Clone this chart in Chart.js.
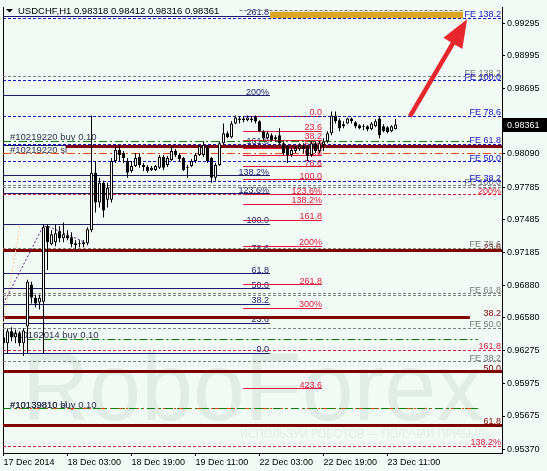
<!DOCTYPE html>
<html>
<head>
<meta charset="utf-8">
<title>USDCHF H1</title>
<script src="https://cdn.jsdelivr.net/npm/chart.js@4.4.1/dist/chart.umd.min.js"></script>
<style>
  html, body { margin: 0; padding: 0; background: #f2faf5; }
  #wrap { position: relative; width: 547px; height: 471px; }
</style>
</head>
<body>
<div id="wrap"><canvas id="chart"></canvas></div>
<script>
// ---- данные графика ----
const symbolTitle = 'USDCHF,H1 0.98318 0.98412 0.98316 0.98361';
const timeLabels = ['17 Dec 2014', '18 Dec 03:00', '18 Dec 19:00', '19 Dec 11:00', '22 Dec 03:00', '22 Dec 19:00', '23 Dec 11:00'];
const timeTickBars = [0, 16, 32, 48, 64, 80, 96];
const priceTicks = [0.99295, 0.98995, 0.98695, 0.98090, 0.97785, 0.97485, 0.97185, 0.96880, 0.96580, 0.96275, 0.95975, 0.95675, 0.95370];

// H1 свечи
const opens = [0.96400, 0.96346, 0.96455, 0.96400, 0.96437, 0.96346, 0.96501, 0.96884, 0.96766, 0.96720,
  0.96729, 0.97423, 0.97259, 0.97277, 0.97377, 0.97313, 0.97341, 0.97322, 0.97268, 0.97259,
  0.97259, 0.97268, 0.97386, 0.97916, 0.97642, 0.97825, 0.97669, 0.97669, 0.98026, 0.98126,
  0.98099, 0.98026, 0.97934, 0.97980, 0.98062, 0.97989, 0.97971, 0.97943, 0.97943, 0.97962,
  0.98062, 0.97989, 0.98035, 0.98117, 0.98080, 0.98053, 0.97962, 0.97980, 0.98026, 0.98080,
  0.98080, 0.98162, 0.98053, 0.97870, 0.97989, 0.98190, 0.98281, 0.98245, 0.98372, 0.98400,
  0.98418, 0.98400, 0.98418, 0.98436, 0.98391, 0.98299, 0.98235, 0.98263, 0.98226, 0.98263,
  0.98190, 0.98162, 0.98080, 0.98117, 0.98135, 0.98162, 0.98162, 0.98080, 0.98190, 0.98117,
  0.98172, 0.98208, 0.98281, 0.98445, 0.98400, 0.98363, 0.98372, 0.98418, 0.98382, 0.98354,
  0.98345, 0.98345, 0.98318, 0.98345, 0.98418, 0.98345, 0.98336, 0.98299, 0.98318];
const highs = [0.96437, 0.96482, 0.96492, 0.96473, 0.96455, 0.96482, 0.96930, 0.96912, 0.96793, 0.96793,
  0.97441, 0.97441, 0.97386, 0.97441, 0.97423, 0.97459, 0.97386, 0.97368, 0.97295, 0.97295,
  0.97295, 0.97414, 0.98445, 0.98026, 0.97870, 0.97843, 0.97825, 0.98053, 0.98162, 0.98162,
  0.98117, 0.98053, 0.98026, 0.98099, 0.98099, 0.98007, 0.97989, 0.97980, 0.97989, 0.98080,
  0.98080, 0.98071, 0.98162, 0.98135, 0.98099, 0.98062, 0.97989, 0.98044, 0.98099, 0.98172,
  0.98208, 0.98172, 0.98062, 0.98007, 0.98208, 0.98372, 0.98299, 0.98391, 0.98445, 0.98436,
  0.98436, 0.98445, 0.98436, 0.98445, 0.98400, 0.98309, 0.98299, 0.98281, 0.98263, 0.98327,
  0.98208, 0.98172, 0.98144, 0.98162, 0.98190, 0.98190, 0.98172, 0.98208, 0.98208, 0.98208,
  0.98235, 0.98299, 0.98482, 0.98482, 0.98418, 0.98391, 0.98427, 0.98427, 0.98391, 0.98363,
  0.98363, 0.98354, 0.98382, 0.98409, 0.98436, 0.98363, 0.98345, 0.98354, 0.98412];
const lows = [0.96300, 0.96254, 0.96364, 0.96346, 0.96318, 0.96227, 0.96254, 0.96711, 0.96674, 0.96656,
  0.96254, 0.97021, 0.97249, 0.97240, 0.97277, 0.97277, 0.97295, 0.97231, 0.97204, 0.97231,
  0.97231, 0.97249, 0.97368, 0.97551, 0.97596, 0.97505, 0.97596, 0.97642, 0.98007, 0.98026,
  0.98007, 0.97870, 0.97916, 0.97971, 0.97962, 0.97934, 0.97916, 0.97934, 0.97934, 0.97952,
  0.97943, 0.97971, 0.98026, 0.98062, 0.98026, 0.97934, 0.97870, 0.97971, 0.98007, 0.98071,
  0.98062, 0.98007, 0.97825, 0.97843, 0.97980, 0.98172, 0.98235, 0.98235, 0.98363, 0.98372,
  0.98382, 0.98391, 0.98382, 0.98372, 0.98290, 0.98217, 0.98226, 0.98208, 0.98208, 0.98172,
  0.98080, 0.98007, 0.98062, 0.98099, 0.98117, 0.98099, 0.98026, 0.98062, 0.98099, 0.98099,
  0.98117, 0.98190, 0.98263, 0.98372, 0.98299, 0.98327, 0.98363, 0.98372, 0.98327, 0.98318,
  0.98309, 0.98299, 0.98309, 0.98336, 0.98235, 0.98290, 0.98281, 0.98290, 0.98316];
const closes = [0.96346, 0.96455, 0.96400, 0.96437, 0.96346, 0.96464, 0.96912, 0.96766, 0.96711, 0.96766,
  0.97414, 0.97277, 0.97350, 0.97359, 0.97313, 0.97350, 0.97313, 0.97259, 0.97249, 0.97268,
  0.97277, 0.97396, 0.97916, 0.97642, 0.97825, 0.97569, 0.97779, 0.98026, 0.98126, 0.98080,
  0.98053, 0.97916, 0.97980, 0.98053, 0.97989, 0.97971, 0.97934, 0.97962, 0.97980, 0.98062,
  0.97962, 0.98053, 0.98117, 0.98080, 0.98044, 0.97943, 0.97971, 0.98026, 0.98080, 0.98162,
  0.98172, 0.98026, 0.97870, 0.97989, 0.98190, 0.98281, 0.98245, 0.98372, 0.98427, 0.98418,
  0.98400, 0.98427, 0.98400, 0.98391, 0.98299, 0.98235, 0.98281, 0.98217, 0.98245, 0.98190,
  0.98099, 0.98080, 0.98126, 0.98144, 0.98162, 0.98135, 0.98071, 0.98190, 0.98117, 0.98190,
  0.98208, 0.98281, 0.98445, 0.98391, 0.98327, 0.98345, 0.98418, 0.98391, 0.98345, 0.98327,
  0.98336, 0.98318, 0.98372, 0.98391, 0.98263, 0.98299, 0.98290, 0.98345, 0.98361];

// Fibo Expansion (синие и серые)
const feBluePrices = [0.99341, 0.98766, 0.98437, 0.98181, 0.98017, 0.97835];
const feBlueLabels = ['FE 138.2', 'FE 100.0', 'FE 78.6', 'FE 61.8', 'FE 50.0', 'FE 38.2'];
const feGrayPrices = [0.98802, 0.97798, 0.97780, 0.97223, 0.96803, 0.96785, 0.96484, 0.96173];
const feGrayLabels = ['FE 138.2', 'FE 100.0', '', 'FE 78.6', 'FE 61.8', '', 'FE 50.0', 'FE 38.2'];
const feGrayTopPrice = 0.99414;

// уровни Фибоначчи
const fibNavyLevels = ['0.0', '23.6', '38.2', '50.0', '61.8', '78.6', '100.0', '123.6%', '138.2%', '161.8', '200%', '261.8'];
const fibNavyPrices = [0.96255, 0.96529, 0.96703, 0.96849, 0.96986, 0.97187, 0.97442, 0.97725, 0.97889, 0.98172, 0.98629, 0.99359];
const fibRedLevels = ['0.0', '23.6', '38.2', '50.0', '61.8', '78.6', '100.0', '123.6%', '138.2%', '161.8', '200%', '261.8', '300%', '423.6'];
const fibRedPrices = [0.98437, 0.98300, 0.98218, 0.98145, 0.98072, 0.97972, 0.97853, 0.97716, 0.97625, 0.97479, 0.97241, 0.96885, 0.96666, 0.95927];
const fibRedExtLevels = ['200%', '161.8', '138.2%'];
const fibRedExtPrices = [0.97716, 0.96283, 0.95397];
const fibMaroonLevels = ['', '23.6', '38.2', '50.0', '61.8'];
const fibMaroonPrices = [0.98163, 0.97196, 0.96584, 0.96082, 0.95590];

// ордера
const orderBuyPrices = [0.98209, 0.96383, 0.95744];
const orderBuyLabels = ['#10219220 buy 0.10', '#10162014 buy 0.10', '#10139810 buy 0.10'];
const orderStopPrices = [0.98090, 0.95744];
const orderStopLabels = ['#10219220 sl', '#10139810 sl'];

// линии разметки
const zigzagBars = [0, 9.9, 11.1, 20.4];
const zigzagPrices = [0.96712, 0.97423, 0.97423, 0.97277];
const trendBars = [0, 4.1];
const trendPrices = [0.96532, 0.97433];
const arrowBars = [101.6, 115.9];
const arrowPrices = [0.98437, 0.99332];
const targetZoneBars = [66.6, 114.9];
const targetZonePrices = [0.99400, 0.99341];

const watermarkText = 'RoboForex';
const watermarkSlogan = 'ИСПОЛЬЗУЙ РОБОТОВ — ПОЛУЧАЙ ПРИБЫЛЬ';

// ---- оформление ----
const X_MIN = -0.125, X_MAX = 124.625;
const Y_MIN = 0.95334, Y_MAX = 0.99441;
const FONT = '"Liberation Sans", Arial, sans-serif';
const C = {
    blue: '#1212c4', gray: '#808080', navy: '#1c1c6e', red: '#e0193c', maroon: '#800000',
    green: '#008000', orange: '#ff4500', purple: '#5a1a9a', peach: '#f5c79a',
    arrow: '#e8262d', gold: '#daa520', text: '#2e2e4e'
};
const NAVY_END = 66.6, RED_START = 59.9, RED_END = 79.6;

Chart.defaults.font.family = FONT;
Chart.defaults.font.size = 9;

const datasets = [];

function hLine(price, from, to, color, width, dash, order) {
    datasets.push({
        type: 'line',
        data: [{ x: from, y: price }, { x: to, y: price }],
        borderColor: color, borderWidth: width, borderDash: dash,
        pointRadius: 0, fill: false, order: order, snap: true
    });
}

function polyLine(bars, prices, color, width, dash, order) {
    datasets.push({
        type: 'line',
        data: bars.map((b, i) => ({ x: b, y: prices[i] })),
        borderColor: color, borderWidth: width, borderDash: dash,
        pointRadius: 0, fill: false, order: order, tension: 0
    });
}

// целевая зона (золотой прямоугольник)
datasets.push({
    type: 'line', data: targetZoneBars.map(b => ({ x: b, y: targetZonePrices[0] })),
    borderWidth: 0, borderColor: 'transparent', pointRadius: 0, fill: false, order: 100
});
datasets.push({
    type: 'line', data: targetZoneBars.map(b => ({ x: b, y: targetZonePrices[1] })),
    borderWidth: 0, borderColor: 'transparent', pointRadius: 0, fill: '-1',
    backgroundColor: C.gold, order: 100
});

hLine(feGrayTopPrice, 59, 115, C.gray, 1, [3, 2], 90);
feGrayPrices.forEach(p => hLine(p, X_MIN, X_MAX, C.gray, 1, [3, 2], 90));
fibNavyPrices.forEach(p => hLine(p, X_MIN, NAVY_END, C.navy, 1, [], 80));
fibRedPrices.forEach(p => hLine(p, RED_START, RED_END, C.red, 1, [], 75));
fibRedExtPrices.forEach(p => hLine(p, X_MIN, X_MAX, C.red, 1, [3, 2], 70));
feBluePrices.forEach(p => hLine(p, X_MIN, X_MAX, C.blue, 1, [3, 2], 65));

// толстые бордовые уровни
hLine(fibMaroonPrices[0], 15.6, X_MAX, C.maroon, 3, [], 60);
hLine(fibMaroonPrices[1], X_MIN, X_MAX, C.maroon, 3, [], 60);
hLine(fibMaroonPrices[2], X_MIN, 116.6, C.maroon, 3, [], 60);
hLine(fibMaroonPrices[3], X_MIN, X_MAX, C.maroon, 3, [], 60);
hLine(fibMaroonPrices[4], X_MIN, X_MAX, C.maroon, 3, [], 60);

// ордера: sl оранжевые, buy зелёные
hLine(orderStopPrices[0], X_MIN, X_MAX, C.orange, 1, [8, 3, 2, 3], 55);
hLine(orderStopPrices[1], X_MIN, 118.6, C.orange, 1, [8, 3, 2, 3], 55);
hLine(orderBuyPrices[0], X_MIN, 116.6, C.green, 1, [8, 3, 2, 3], 50);
hLine(orderBuyPrices[1], 6, 118.6, C.green, 1, [8, 3, 2, 3], 50);
hLine(orderBuyPrices[2], X_MIN, 118.6, C.green, 1, [8, 4, 2, 4], 50);

polyLine(trendBars, trendPrices, C.peach, 1, [2, 2], 45);
polyLine(zigzagBars, zigzagPrices, C.purple, 1, [2, 2], 45);

// свечи: тени и тела
datasets.push({
    type: 'bar',
    data: lows.map((l, i) => ({ x: i, y: [l, highs[i]] })),
    backgroundColor: '#000', barThickness: 1, grouped: false, inflateAmount: 0, order: 2
});
datasets.push({
    type: 'bar',
    data: opens.map((o, i) => ({ x: i, y: [o, closes[i]] })),
    backgroundColor: opens.map((o, i) => closes[i] >= o ? '#ffffff' : '#000000'),
    borderColor: '#000', borderWidth: 1, borderSkipped: false, barThickness: 3,
    minBarLength: 1, grouped: false, inflateAmount: 0, order: 1
});

// выравнивание горизонтальных линий по пикселям
const snapPlugin = {
    id: 'snapLines',
    beforeDatasetDraw(chart, args) {
        const ds = chart.data.datasets[args.index];
        if (!ds.snap) return;
        const py = args.meta.data[0].y;
        const target = ds.borderWidth % 2 === 1 ? Math.floor(py) + 0.5 : Math.round(py);
        chart.ctx.save();
        chart.ctx.translate(0, target - py);
    },
    afterDatasetDraw(chart, args) {
        if (chart.data.datasets[args.index].snap) chart.ctx.restore();
    }
};

// водяной знак и подписи уровней
const backPlugin = {
    id: 'backTexts',
    beforeDatasetsDraw(chart) {
        const { ctx, chartArea: a, scales: { x, y } } = chart;
        ctx.save();
        ctx.beginPath();
        ctx.rect(a.left, a.top, a.right - a.left, a.bottom - a.top);
        ctx.clip();

        ctx.fillStyle = '#e1ece7';
        ctx.font = '96px ' + FONT;
        ctx.textBaseline = 'alphabetic';
        let w = ctx.measureText(watermarkText).width;
        ctx.save();
        ctx.translate(22, 420);
        ctx.scale(461 / w, 1);
        ctx.fillText(watermarkText, 0, 0);
        ctx.restore();
        ctx.font = '13px ' + FONT;
        w = ctx.measureText(watermarkSlogan).width;
        ctx.save();
        ctx.translate(240, 438);
        ctx.scale(252 / w, 1);
        ctx.fillText(watermarkSlogan, 0, 0);
        ctx.restore();

        const put = (text, price, px, color, align, size) => {
            if (!text) return;
            ctx.font = (size || 9) + 'px ' + FONT;
            ctx.fillStyle = color;
            ctx.textAlign = align;
            ctx.fillText(text, px, Math.round(y.getPixelForValue(price)) - 1);
        };
        const rightEdge = a.right - 1;

        fibMaroonLevels.forEach((t, i) => put(t, fibMaroonPrices[i], rightEdge, C.maroon, 'right'));
        fibNavyLevels.forEach((t, i) => put(t, fibNavyPrices[i], x.getPixelForValue(NAVY_END) - 1, C.navy, 'right'));
        fibRedLevels.forEach((t, i) => put(t, fibRedPrices[i], x.getPixelForValue(RED_END), C.red, 'right'));
        fibRedExtLevels.forEach((t, i) => put(t, fibRedExtPrices[i], rightEdge, C.red, 'right'));
        feGrayLabels.forEach((t, i) => put(t, feGrayPrices[i], rightEdge, '#767676', 'right'));
        feBlueLabels.forEach((t, i) => put(t, feBluePrices[i], rightEdge, C.blue, 'right'));

        put(orderBuyLabels[0], orderBuyPrices[0], 10, C.text, 'left', 9.5);
        put(orderStopLabels[0], orderStopPrices[0], 10, C.text, 'left', 9.5);
        put(orderBuyLabels[1], orderBuyPrices[1], 12, C.text, 'left', 9.5);
        put(orderBuyLabels[2], orderBuyPrices[2], 10, C.text, 'left', 9.5);
        put(orderStopLabels[1], orderStopPrices[1], 10, C.text, 'left', 9.5);
        ctx.restore();
    }
};

// стрелка, заголовок, метка текущей цены
const frontPlugin = {
    id: 'frontMarks',
    afterDraw(chart) {
        const { ctx, chartArea: a, scales: { x, y } } = chart;
        ctx.save();

        const x0 = x.getPixelForValue(arrowBars[0]), y0 = y.getPixelForValue(arrowPrices[0]);
        const x1 = x.getPixelForValue(arrowBars[1]), y1 = y.getPixelForValue(arrowPrices[1]);
        const len = Math.hypot(x1 - x0, y1 - y0);
        const ux = (x1 - x0) / len, uy = (y1 - y0) / len;
        const bx = x1 - ux * 28, by = y1 - uy * 28;
        ctx.strokeStyle = C.arrow;
        ctx.lineWidth = 4.5;
        ctx.beginPath();
        ctx.moveTo(x0, y0);
        ctx.lineTo(bx + ux * 3, by + uy * 3);
        ctx.stroke();
        ctx.fillStyle = C.arrow;
        ctx.beginPath();
        ctx.moveTo(x1, y1);
        ctx.lineTo(bx - uy * 11, by + ux * 11);
        ctx.lineTo(bx + uy * 11, by - ux * 11);
        ctx.closePath();
        ctx.fill();

        ctx.fillStyle = '#000';
        ctx.beginPath();
        ctx.moveTo(6, 9); ctx.lineTo(13, 9); ctx.lineTo(9.5, 12.5);
        ctx.closePath();
        ctx.fill();
        ctx.font = '9.5px ' + FONT;
        ctx.textBaseline = 'alphabetic';
        ctx.textAlign = 'left';
        ctx.fillText(symbolTitle, 18, 14);

        const last = closes[closes.length - 1];
        const py = Math.round(y.getPixelForValue(last));
        ctx.fillStyle = '#000';
        ctx.fillRect(a.right + 1, py - 7, chart.width - a.right - 1, 14);
        ctx.fillStyle = '#fff';
        ctx.font = '9px ' + FONT;
        ctx.textBaseline = 'middle';
        ctx.fillText(last.toFixed(5), a.right + 5, py + 0.5);
        ctx.restore();
    }
};

new Chart(document.getElementById('chart').getContext('2d'), {
    type: 'bar',
    data: { datasets: datasets },
    options: {
        responsive: true,
        maintainAspectRatio: false,
        animation: false,
        events: [],
        layout: { padding: { top: 3, left: 0, right: 0, bottom: 0 } },
        plugins: { legend: { display: false }, tooltip: { enabled: false } },
        scales: {
            x: {
                type: 'linear', position: 'bottom', min: X_MIN, max: X_MAX, offset: false,
                grid: { display: true, drawOnChartArea: false, drawTicks: true, tickLength: 3, color: '#000', offset: false },
                border: { display: true, color: '#000' },
                ticks: {
                    autoSkip: false, maxRotation: 0, align: 'start', padding: 1, color: '#000',
                    callback: (v, i) => timeLabels[i]
                },
                afterBuildTicks: s => { s.ticks = timeTickBars.map(v => ({ value: v })); },
                afterFit: s => { s.height = 18; }
            },
            y: {
                type: 'linear', position: 'right', min: Y_MIN, max: Y_MAX,
                grid: { display: true, drawOnChartArea: false, tickLength: 3, color: '#000' },
                border: { display: true, color: '#000' },
                ticks: { autoSkip: false, padding: 2, color: '#000', callback: v => v.toFixed(5) },
                afterBuildTicks: s => { s.ticks = priceTicks.map(v => ({ value: v })); },
                afterFit: s => { s.width = 45; }
            },
            yl: {
                type: 'linear', position: 'left', min: Y_MIN, max: Y_MAX,
                ticks: { display: false }, grid: { display: false },
                border: { display: true, color: '#000' },
                afterFit: s => { s.width = 3; }
            }
        }
    },
    plugins: [snapPlugin, backPlugin, frontPlugin]
});
</script>
</body>
</html>
